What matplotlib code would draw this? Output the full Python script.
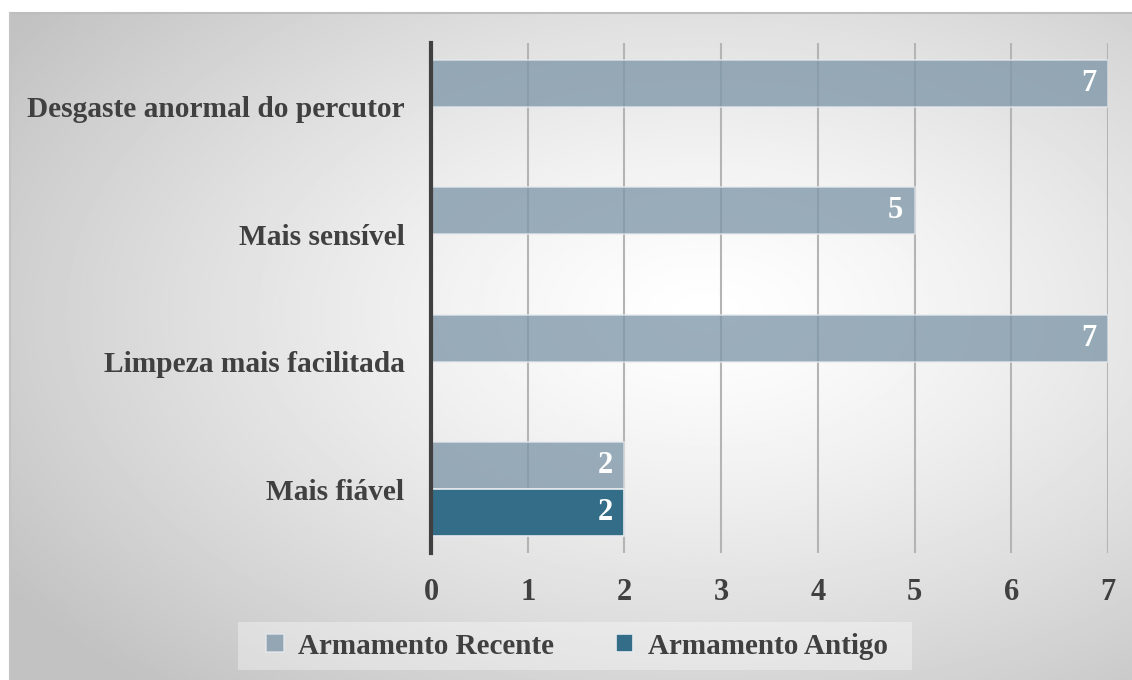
import matplotlib.pyplot as plt
import numpy as np
from matplotlib.patches import Rectangle

plt.rcParams['font.family'] = ['Liberation Serif', 'DejaVu Serif']
plt.rcParams['font.weight'] = 'bold'

categorias = ["Mais fiável", "Limpeza mais facilitada", "Mais sensível", "Desgaste anormal do percutor"]
recente = [2, 7, 5, 7]
antigo = [2, 0, 0, 0]
series = ["Armamento Recente", "Armamento Antigo"]

cor_recente = "#7f97a9"
cor_antigo = "#336d88"
cor_texto = "#404040"

fig = plt.figure(figsize=(11.32, 6.8), dpi=100)

# fundo com gradiente radial
bg = fig.add_axes([10/1132, 0, 1 - 10/1132, 1 - 13/680])
yy, xx = np.mgrid[0:1:400j, 0:1:600j]
r = np.sqrt(((xx - 0.62) / 0.75) ** 2 + ((yy - 0.55) / 0.75) ** 2)
val = 1.0 - 0.24 * np.clip(r, 0, 1) ** 1.3
bg.imshow(val, cmap="gray", vmin=0, vmax=1, aspect="auto", extent=[0, 1, 0, 1], origin="lower")
bg.set_xlim(0, 1)
bg.set_ylim(0, 1)
bg.axis("off")
fig.add_artist(plt.Line2D([10/1132, 1], [1 - 13/680, 1 - 13/680], color="#bdbdbd", lw=1.5, transform=fig.transFigure))
fig.add_artist(plt.Line2D([10/1132, 10/1132], [0, 1 - 13/680], color="#c4c4c4", lw=1.5, transform=fig.transFigure))

# caixa da legenda
fig.add_artist(Rectangle((238/1132, 1 - 670/680), 674/1132, 48/680, transform=fig.transFigure,
                         facecolor="white", alpha=0.35, edgecolor="none"))

ax = fig.add_axes([431/1132, 127/680, 677/1132, 510/680])
ax.patch.set_alpha(0)

y = np.arange(len(categorias))
h = 0.37
b1 = ax.barh(y + h/2, recente, height=h, color=cor_recente, alpha=0.78, edgecolor="#e6eaee", lw=1.2, zorder=3)
b2 = ax.barh(y - h/2, antigo, height=h, color=cor_antigo, alpha=1, edgecolor="#e6eaee", lw=1.2, zorder=3)

for barras, vals in [(b1, recente), (b2, antigo)]:
    for b, v in zip(barras, vals):
        if v > 0:
            ax.text(v - 0.12, b.get_y() + b.get_height()/2, str(v), ha="right", va="center",
                    color="white", fontsize=22, fontweight="bold", zorder=4)

ax.set_xlim(0, 7)
ax.set_ylim(-0.5, 3.5)
ax.set_yticks(y)
ax.set_yticklabels(categorias, fontsize=21.2, color=cor_texto)
ax.set_xticks(range(8))
ax.tick_params(axis="x", labelsize=22, colors=cor_texto, length=0, pad=18)
ax.tick_params(axis="y", length=0, pad=19)
ax.grid(axis="x", color="#b4b4b4", lw=1.5, zorder=0)
for s in ["top", "right", "bottom"]:
    ax.spines[s].set_visible(False)
ax.spines["left"].set_color("#404040")
ax.spines["left"].set_linewidth(3)
ax.spines["left"].set_zorder(5)

leg = fig.legend([b1, b2], series, loc="center", bbox_to_anchor=(577/1132, 1 - 646/680),
                 ncol=2, frameon=False, fontsize=21, handlelength=0.6, handleheight=0.6,
                 handletextpad=0.5, columnspacing=2.1, borderpad=0.4)
for t in leg.get_texts():
    t.set_color(cor_texto)

fig.savefig("out.png", dpi=100)
